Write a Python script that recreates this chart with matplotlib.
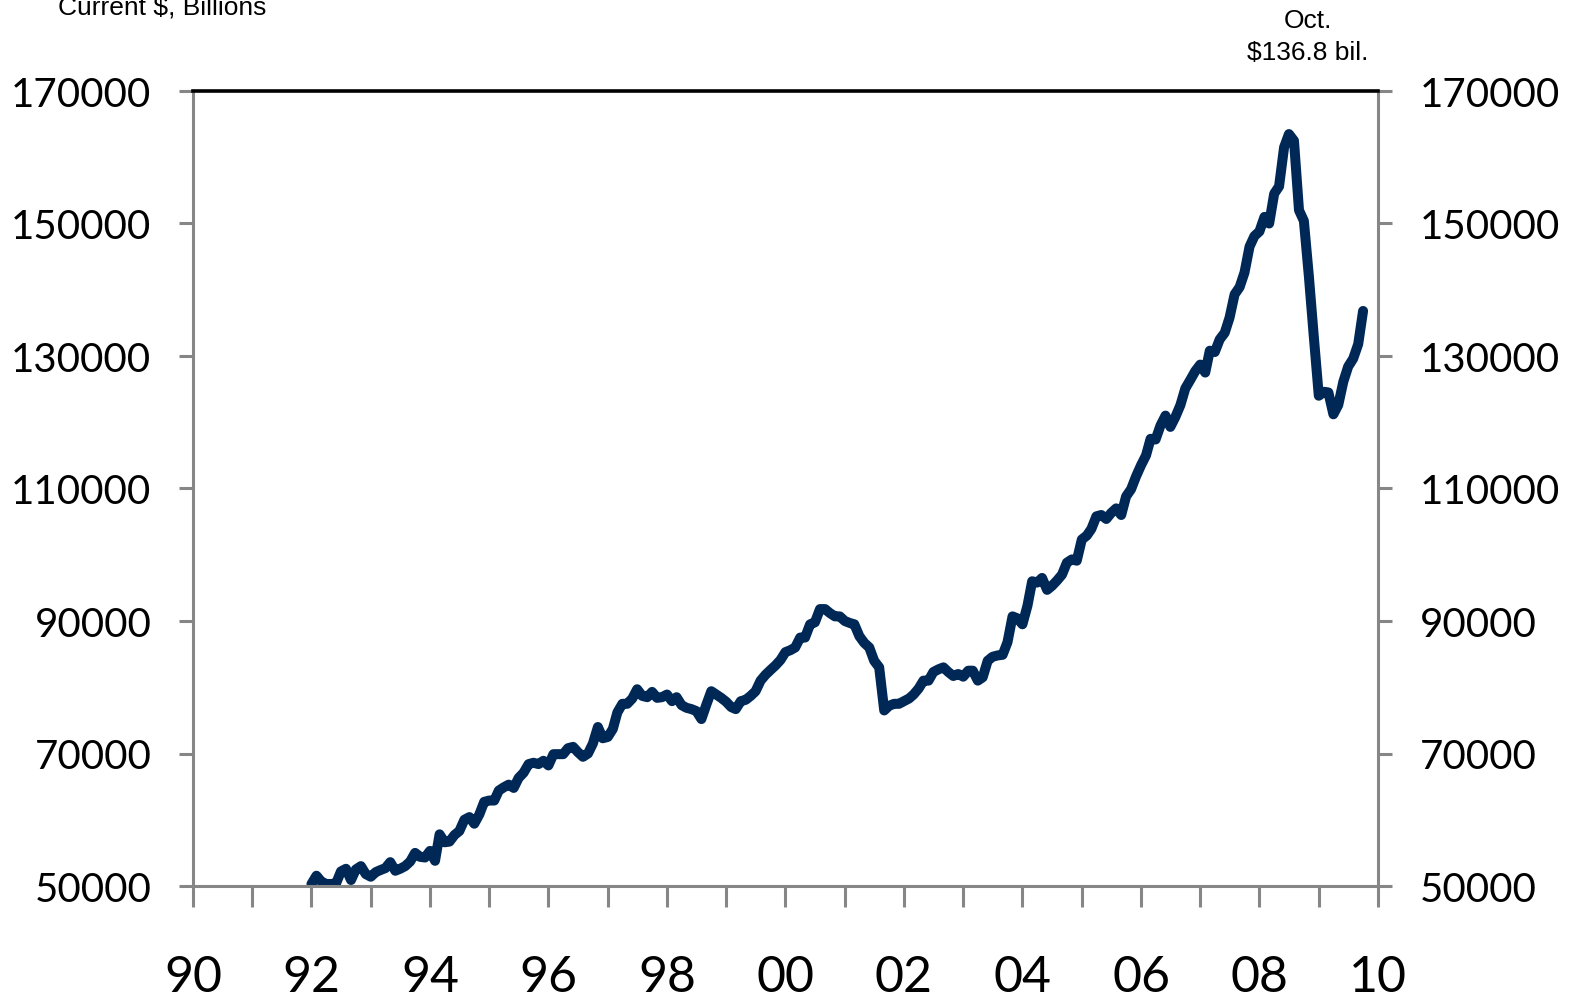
import numpy as np
import pandas as pd
import matplotlib
matplotlib.use("Agg")
import matplotlib.pyplot as plt

# monthly values, current $ billions (x1000), Jan 1992 - Oct 2009
v1992 = [50300, 51550, 50700, 50300, 50300, 50400, 52200, 52600, 50900, 52500, 53000, 51800]
v1993 = [51400, 52100, 52400, 52700, 53600, 52300, 52600, 53000, 53700, 55000, 54400, 54300]
v1994 = [55300, 53800, 57800, 56600, 56700, 57700, 58300, 60000, 60400, 59400, 60800, 62700]
v1995 = [62900, 62900, 64400, 64900, 65300, 64800, 66300, 67100, 68400, 68600, 68400, 68900]
v1996 = [68200, 69900, 69900, 69900, 70800, 71000, 70200, 69500, 70000, 71500, 74000, 72300]
v1997 = [72500, 73700, 76200, 77500, 77500, 78300, 79700, 78700, 78500, 79300, 78400, 78500]
v1998 = [78900, 77900, 78500, 77300, 76900, 76700, 76400, 75200, 77400, 79400, 78900, 78400]
v1999 = [77800, 77000, 76700, 77900, 78100, 78700, 79400, 81000, 81900, 82600, 83300, 84100]
v2000 = [85300, 85600, 86000, 87500, 87500, 89500, 89800, 91800, 91800, 91200, 90700, 90700]
v2001 = [90000, 89700, 89500, 87700, 86700, 86000, 84000, 83000, 76500, 77200, 77500, 77500]
v2002 = [77900, 78300, 78900, 79800, 81000, 81000, 82300, 82700, 83000, 82300, 81700, 82000]
v2003 = [81600, 82500, 82500, 81000, 81500, 84000, 84600, 84800, 84900, 86800, 90700, 90400]
v2004 = [89500, 92300, 96000, 95800, 96500, 94700, 95300, 96100, 97000, 98800, 99300, 99100]
v2005 = [102300, 102900, 103900, 105800, 106000, 105400, 106300, 107000, 106000, 108800, 109900, 111800]
v2006 = [113500, 115000, 117500, 117400, 119500, 121000, 119300, 120800, 122600, 125100, 126400, 127700]
v2007 = [128700, 127500, 130800, 130600, 132500, 133500, 135800, 139300, 140400, 142600, 146500, 148100]
v2008 = [148800, 151000, 150000, 154500, 155600, 161500, 163500, 162500, 152000, 150400, 142000, 133000]
v2009 = [124000, 124600, 124500, 121200, 122600, 126100, 128400, 129600, 131800, 136800]

values = (v1992 + v1993 + v1994 + v1995 + v1996 + v1997 + v1998 + v1999 + v2000
          + v2001 + v2002 + v2003 + v2004 + v2005 + v2006 + v2007 + v2008 + v2009)
months = pd.date_range("1992-01-01", periods=len(values), freq="MS")

y_ticks = [50000, 70000, 90000, 110000, 130000, 150000, 170000]
tick_years = list(range(1990, 2011))
tick_labels = [f"{y % 100:02d}" if y % 2 == 0 else "" for y in tick_years]

LINE = "#002856"
GREY = "#868686"

fig = plt.figure(figsize=(15.7, 10.03), dpi=100)
ax = fig.add_axes([193 / 1570, 1 - 887 / 1003, (1378 - 193) / 1570, (887 - 92) / 1003])

ax.plot(months, values, color=LINE, lw=7.2, solid_capstyle="round", solid_joinstyle="round")

ax.set_xlim(pd.Timestamp("1990-01-01"), pd.Timestamp("2010-01-01"))
ax.set_ylim(50000, 170000)

ax.set_xticks([pd.Timestamp(f"{y}-01-01") for y in tick_years])
ax.set_xticklabels(tick_labels, fontsize=36, family="Lato")
ax.set_yticks(y_ticks)
ax.set_yticklabels([str(t) for t in y_ticks], fontsize=29, family="Lato")

ax.tick_params(axis="x", direction="out", length=15, width=2.2, color=GREY, pad=34)
ax.tick_params(axis="y", direction="out", length=10, width=2.2, color=GREY, pad=20,
               left=True, right=True, labelleft=True, labelright=True)

for side in ["left", "right", "bottom"]:
    ax.spines[side].set_color(GREY)
    ax.spines[side].set_linewidth(2.2)
ax.spines["top"].set_color("black")
ax.spines["top"].set_linewidth(2.6)

fig.text(58 / 1570, 1 - 14 / 1003, "Current $, Billions", fontsize=19,
         family="Liberation Sans", ha="left", va="baseline")
fig.text(1308 / 1570, 1 - 60 / 1003, "Oct.\n$136.8 bil.", fontsize=19,
         family="Liberation Sans", ha="center", va="baseline", linespacing=1.4,
         multialignment="center")

fig.savefig("out.png", dpi=100, facecolor="white")
